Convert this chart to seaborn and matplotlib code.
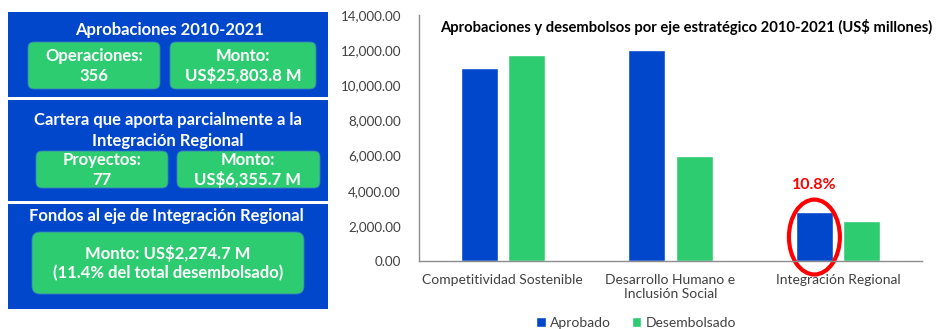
import pandas as pd
import matplotlib.pyplot as plt
import seaborn as sns
from matplotlib.patches import FancyBboxPatch, Rectangle, Ellipse

ejes = ["Competitividad Sostenible", "Desarrollo Humano e\nInclusión Social", "Integración Regional"]
aprobado = [11000, 12020, 2787]
desembolsado = [11700, 5980, 2275]
series = ["Aprobado", "Desembolsado"]
pct_integracion = "10.8%"

blue = "#0047CC"
green = "#2ECC71"

df = pd.DataFrame({
    "eje": ejes * 2,
    "tipo": [series[0]] * 3 + [series[1]] * 3,
    "monto": aprobado + desembolsado,
})

sns.set_style("white")
plt.rcParams["font.family"] = ["Lato", "DejaVu Sans"]

fig = plt.figure(figsize=(9.38, 3.29), dpi=100)

# panel izquierdo en coordenadas de pixel
bg = fig.add_axes([0, 0, 1, 1])
bg.set_xlim(0, 938)
bg.set_ylim(329, 0)
bg.axis("off")


def caja(x0, y0, x1, y1, color, r=0):
    if r:
        p = FancyBboxPatch((x0 + r, y0 + r), x1 - x0 - 2 * r, y1 - y0 - 2 * r,
                           boxstyle=f"round,pad={r}", fc=color, ec="#3a7fc0", lw=0.6)
    else:
        p = Rectangle((x0, y0), x1 - x0, y1 - y0, fc=color, ec="none")
    bg.add_patch(p)


def texto(x, y, s, size=12):
    bg.text(x, y, s, color="white", fontsize=size, fontweight="bold",
            ha="center", va="center")


caja(8, 12, 328, 97, blue)
caja(8, 100, 328, 201, blue)
caja(8, 204, 328, 309, blue)

texto(170, 30, "Aprobaciones 2010-2021")
caja(28, 42, 160, 89, green, 6)
caja(170, 42, 316, 89, green, 6)
texto(94, 56, "Operaciones:")
texto(94, 76, "356")
texto(243, 56, "Monto:")
texto(243, 76, "US$25,803.8 M")

texto(168, 120, "Cartera que aporta parcialmente a la")
texto(168, 141, "Integración Regional")
caja(36, 151, 168, 188, green, 6)
caja(177, 151, 320, 188, green, 6)
texto(102, 160, "Proyectos:")
texto(102, 180, "77")
texto(248, 160, "Monto:")
texto(248, 180, "US$6,355.7 M")

texto(166, 216, "Fondos al eje de Integración Regional")
caja(32, 232, 304, 294, green, 8)
texto(168, 253, "Monto: US$2,274.7 M")
texto(168, 273, "(11.4% del total desembolsado)")

# grafico de barras
ax = fig.add_axes([419 / 938, (329 - 261) / 329, 503 / 938, (261 - 15) / 329])
sns.barplot(data=df, x="eje", y="monto", hue="tipo", hue_order=series,
            palette=[blue, green], width=0.567, gap=0.22, saturation=1,
            errorbar=None, ax=ax)
ax.set_ylim(0, 14000)
ax.set_xlim(-0.5, 2.5)
ax.set_yticks(range(0, 14001, 2000))
ax.set_yticklabels([f"{v:,.2f}" for v in range(0, 14001, 2000)])
ax.set_xlabel("")
ax.set_ylabel("")
ax.tick_params(axis="both", length=0, labelsize=10, labelcolor="#404040")
ax.tick_params(axis="y", pad=13, labelsize=9.6)
ax.tick_params(axis="x", pad=9)
for s in ["top", "right"]:
    ax.spines[s].set_visible(False)
for s in ["left", "bottom"]:
    ax.spines[s].set_color("#8c8c8c")
    ax.spines[s].set_linewidth(1)

# resaltar Integracion Regional aprobado
bar = ax.containers[0][2]
cx = bar.get_x() + bar.get_width() / 2
ax.add_patch(Ellipse((cx, 1364), 0.304, 4260, fill=False, ec="#FF0000", lw=3,
                     clip_on=False))
ax.text(cx, 4318, pct_integracion, color="#FF0000", fontsize=11.5, fontweight="bold",
        ha="center", va="center")

fig.text(686 / 938, 1 - 27 / 329,
         "Aprobaciones y desembolsos por eje estratégico 2010-2021 (US$ millones)",
         fontsize=10.6, fontweight="bold", color="black", ha="center", va="center")

ax.legend(loc="center", bbox_to_anchor=(636 / 938, 1 - 323 / 329),
          bbox_transform=fig.transFigure, ncol=2, frameon=False, fontsize=10,
          handlelength=0.7, handleheight=0.7, handletextpad=0.3, columnspacing=1.5,
          labelcolor="#404040")

fig.savefig("out.png", dpi=100)
